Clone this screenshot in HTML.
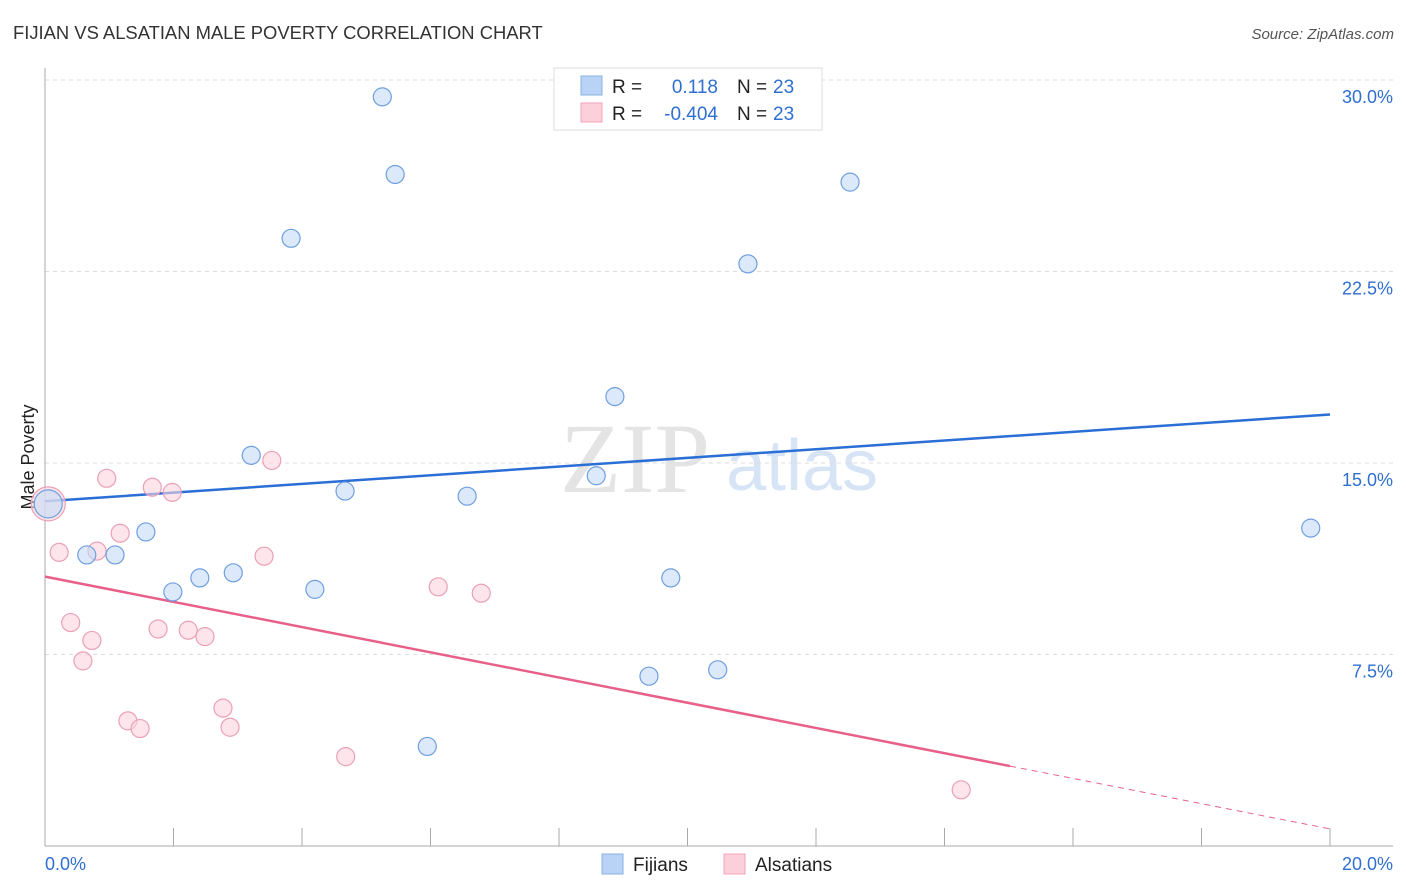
<!DOCTYPE html>
<html><head><meta charset="utf-8"><style>
body{margin:0;background:#fff;font-family:"Liberation Sans",sans-serif}
</style></head><body>
<svg id="chart" width="1406" height="892" style="display:block">
<text x="13" y="39" font-size="18.4" fill="#333">FIJIAN VS ALSATIAN MALE POVERTY CORRELATION CHART</text>
<text x="1394" y="39" font-size="15" fill="#555" font-style="italic" text-anchor="end">Source: ZipAtlas.com</text>
<text x="635" y="492" font-size="100" fill="#e4e4e4" font-family="Liberation Serif" text-anchor="middle">ZIP</text>
<text x="802" y="490" font-size="72" fill="#d6e4f5" text-anchor="middle">atlas</text>
<text transform="translate(34,457) rotate(-90)" font-size="18" fill="#222" text-anchor="middle">Male Poverty</text>
<g id="grid"></g><g id="axes"></g><g id="lines"></g><g id="pts"></g>
<g>
<rect x="554" y="68" width="268" height="62" fill="#fff" stroke="#ddd"/>
<rect x="581" y="76" width="21" height="19" fill="#b8d3f5" stroke="#8ab0e0"/>
<rect x="581" y="103" width="21" height="19" fill="#fcd0db" stroke="#f0a3b8"/>
<text x="612" y="93" font-size="19" fill="#222">R =</text><text x="718" y="93" font-size="19" fill="#2f6fd0" text-anchor="end">0.118</text>
<text x="737" y="93" font-size="19" fill="#222">N =</text><text x="773" y="93" font-size="19" fill="#2f6fd0">23</text>
<text x="612" y="120" font-size="19" fill="#222">R =</text><text x="718" y="120" font-size="19" fill="#2f6fd0" text-anchor="end">-0.404</text>
<text x="737" y="120" font-size="19" fill="#222">N =</text><text x="773" y="120" font-size="19" fill="#2f6fd0">23</text>
</g>
<g>
<rect x="602" y="854" width="21" height="20" fill="#b8d3f5" stroke="#8ab0e0"/>
<text x="633" y="871" font-size="19" fill="#222">Fijians</text>
<rect x="724" y="854" width="21" height="20" fill="#fcd0db" stroke="#f0a3b8"/>
<text x="755" y="871" font-size="19" fill="#222">Alsatians</text>
</g>
</svg>
<script>
const fijX=[5.25,5.45,12.53,3.83,10.94,8.87,3.21,8.58,4.67,6.57,19.7,1.57,0.65,1.09,2.93,2.41,9.74,1.99,4.2,10.47,9.4,5.95,0.05];
const fijY=[29.34,26.3,26.0,23.8,22.8,17.6,15.3,14.5,13.9,13.7,12.45,12.3,11.4,11.4,10.7,10.5,10.5,9.95,10.05,6.9,6.65,3.9,13.4];
const alsX=[0.05,0.96,1.67,1.98,3.53,1.17,0.22,0.81,3.41,6.12,6.79,0.4,0.73,0.59,1.76,2.23,2.49,2.77,2.88,1.29,1.48,4.68,14.26];
const alsY=[13.4,14.4,14.05,13.85,15.1,12.25,11.5,11.55,11.35,10.15,9.9,8.75,8.05,7.25,8.5,8.45,8.2,5.4,4.65,4.9,4.6,3.5,2.2];
const trendFij=[13.5,16.9];   // y at x=0, x=20
const trendAls=[10.55,0.67];
const yTicks=[7.5,15,22.5,30];
const xTickLabels=["0.0%","20.0%"];
const X=v=>45+v/20*1285, Y=v=>846-v/30*766;
const NS="http://www.w3.org/2000/svg";
function mk(p,t,a){const e=document.createElementNS(NS,t);for(const k in a)e.setAttribute(k,a[k]);document.getElementById(p).appendChild(e);return e;}
yTicks.forEach(t=>{
  const l=mk('grid','line',{x1:45,x2:1393,y1:Y(t),y2:Y(t),stroke:'#ddd','stroke-dasharray':'4,4'});
  
  
  const tx=mk('grid','text',{x:1393,y:Y(t)+23,'font-size':18,fill:'#2f6fd0','text-anchor':'end'});tx.textContent=t.toFixed(1)+'%';
  
  
});
mk('axes','line',{x1:45,x2:45,y1:68,y2:846,stroke:'#aaa'});
mk('axes','line',{x1:45,x2:1393,y1:846,y2:846,stroke:'#aaa'});
for(let i=1;i<=10;i++){const l=mk('axes','line',{x1:X(i*2),x2:X(i*2),y1:828,y2:846,stroke:'#aaa'});
  
  }
const a=mk('axes','text',{x:45,y:870,'font-size':18,fill:'#2f6fd0'});a.textContent=xTickLabels[0];


const b=mk('axes','text',{x:1393,y:870,'font-size':18,fill:'#2f6fd0','text-anchor':'end'});b.textContent=xTickLabels[1];


function drawPts(xs,ys,fill,stroke,name){xs.forEach((x,i)=>{
  const big=(name==='fijian-point'&&i===xs.length-1)||(name==='alsatian-point'&&i===0);
  const c=mk('pts','circle',{cx:X(x),cy:Y(ys[i]),r:big?(name==='alsatian-point'?17:14):9,fill:fill,'fill-opacity':0.6,stroke:stroke,'stroke-width':1.2});
  
  
});}
drawPts(alsX,alsY,'#fbd3de','#eaa0b6','alsatian-point');
drawPts(fijX,fijY,'#c4daf6','#6f9fe0','fijian-point');
const lf=mk('lines','line',{x1:X(0),y1:Y(trendFij[0]),x2:X(20),y2:Y(trendFij[1]),stroke:'#2a6fd6','stroke-width':2.5});


const xe=15.02, ye=trendAls[0]+(trendAls[1]-trendAls[0])*xe/20;
const la=mk('lines','line',{x1:X(0),y1:Y(trendAls[0]),x2:X(xe),y2:Y(ye),stroke:'#e8608a','stroke-width':2.5});


const ld=mk('lines','line',{x1:X(xe),y1:Y(ye),x2:X(20),y2:Y(trendAls[1]),stroke:'#e8608a','stroke-width':1,'stroke-dasharray':'6,5'});


</script>
</body></html>
